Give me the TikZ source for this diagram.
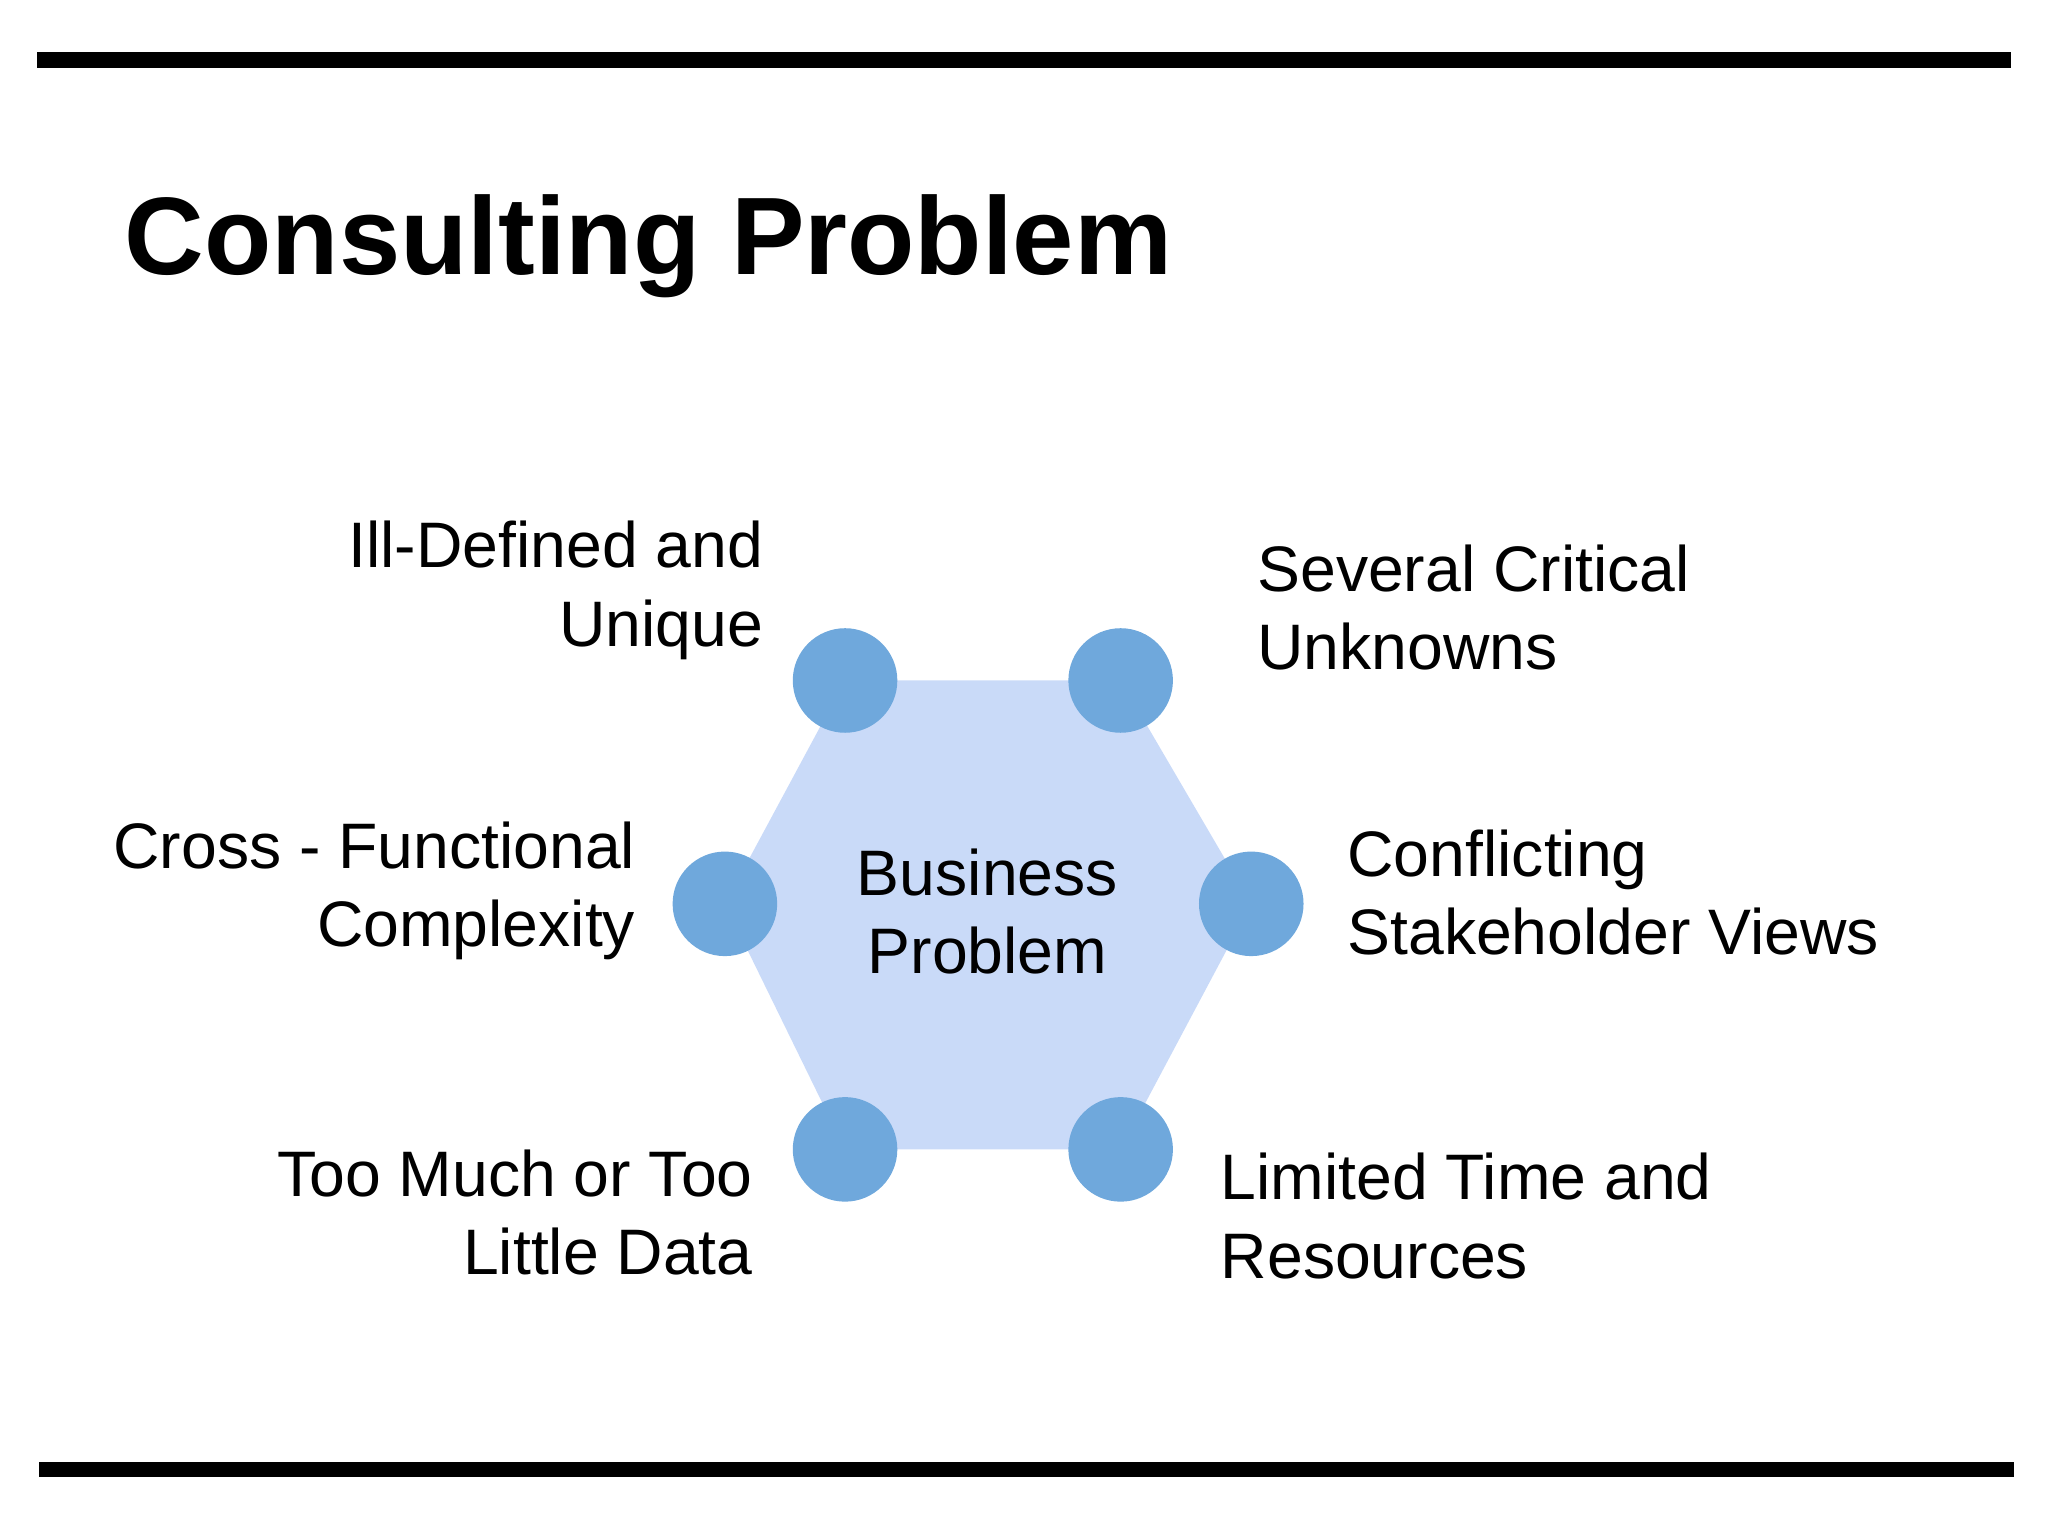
\documentclass[tikz,border=0pt]{standalone}
\usepackage{fontspec}
\setmainfont{Liberation Sans}
\begin{document}
\begin{tikzpicture}[x=0.01cm,y=-0.01cm,
  dot/.style={circle,fill=dotblue,minimum size=80\pgflinewidth,inner sep=0pt,minimum size=0.8cm},
  lbl/.style={font=\fontsize{14}{17}\selectfont,inner sep=0pt}]
\definecolor{dotblue}{HTML}{6FA8DC}
\definecolor{hexblue}{HTML}{C9DAF8}
\useasboundingbox (0,0) rectangle (1568,1176);
\fill (28,40) rectangle (1540,52);
\fill (30,1119) rectangle (1542,1131);
\node[anchor=base west,inner sep=0pt,font=\fontsize{24}{28}\selectfont\bfseries] (title) at (95,210) {Consulting Problem};
\coordinate (v1) at (647,521);
\coordinate (v2) at (858,521);
\coordinate (v3) at (958,692);
\coordinate (v4) at (858,880);
\coordinate (v5) at (647,880);
\coordinate (v6) at (555,692);
\fill[hexblue] (v1)--(v2)--(v3)--(v4)--(v5)--(v6)--cycle;
\foreach \v in {1,...,6} \node[dot] (d\v) at (v\v) {};
\node[lbl,align=center] (c) at (756,698) {Business\\Problem};
\node[lbl,align=right,anchor=east] (l1) at (585,452) {Ill-Defined and\\Unique};
\node[lbl,align=left,anchor=west] (l2) at (962,465) {Several Critical\\Unknowns};
\node[lbl,align=right,anchor=east] (l6) at (487,682) {Cross - Functional\\Complexity};
\node[lbl,align=left,anchor=west] (l3) at (1031,683) {Conflicting\\Stakeholder Views};
\node[lbl,align=right,anchor=east] (l5) at (577,928) {Too Much or Too\\Little Data};
\node[lbl,align=left,anchor=west] (l4) at (934,931) {Limited Time and\\Resources};
\end{tikzpicture}
\end{document}
